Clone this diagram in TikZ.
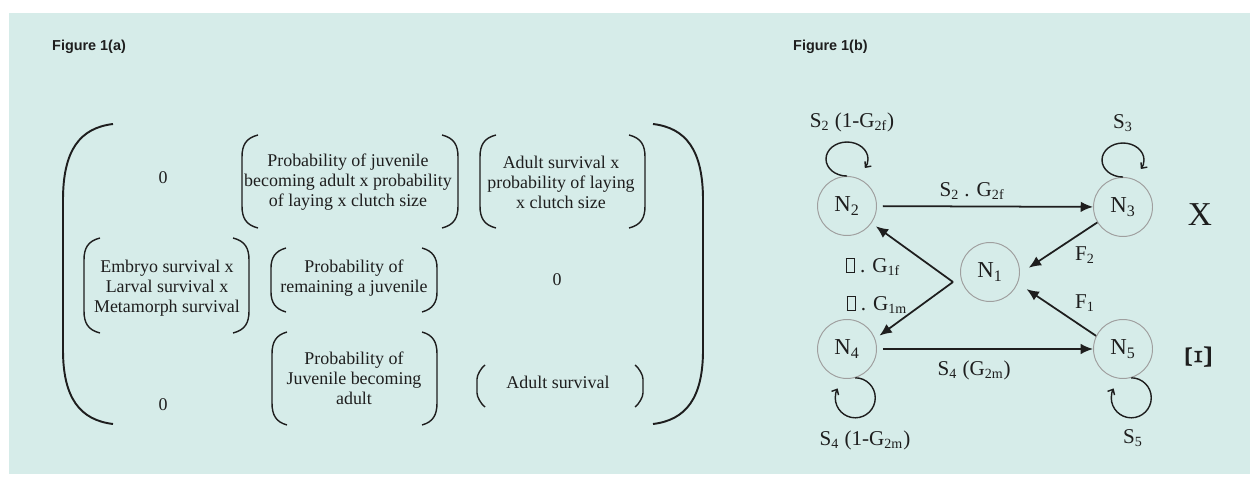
\documentclass[tikz,border=0pt]{standalone}
\usepackage{fontspec}
\setmainfont{Liberation Serif}
\setsansfont{Liberation Sans}
\usepackage{tikz}
\usetikzlibrary{arrows.meta}
\definecolor{panel}{RGB}{214,236,233}
\definecolor{ink}{RGB}{30,30,30}
\newcommand\nogly{{\setlength\fboxsep{0pt}\setlength\fboxrule{0.5pt}\fbox{\rule{0pt}{0.62em}\hspace{0.34em}}}}

\begin{document}
\begin{tikzpicture}[
    x=0.02cm, y=-0.02cm, >=Latex,
    cell/.style={align=center, text=ink, font=\fontsize{10.2}{11.4}\selectfont},
    brk/.style={ink, line width=0.8pt},
    bigbrk/.style={ink, line width=1.1pt},
    stage/.style={circle, draw=gray!75, line width=0.55pt, minimum size=1.18cm,
        inner sep=0pt, text=ink, font=\fontsize{13}{14}\selectfont},
    lbl/.style={text=ink, font=\fontsize{12}{14}\selectfont},
    arr/.style={->, ink, line width=1pt, >={Latex[length=7pt,width=6pt]}},
    selfloop/.style={->, ink, line width=0.8pt, >={Straight Barb[length=2.5pt,width=4.5pt]}},
    figtitle/.style={anchor=west, text=ink, font=\sffamily\bfseries\fontsize{8.2}{9}\selectfont}
]

% Fons
\useasboundingbox (0,0) rectangle (1250,479);
\fill[white] (0,0) rectangle (1250,479);
\fill[panel] (9,13) rectangle (1250,474);

\node[figtitle] (figa) at (46,47) {Figure 1(a)};
\node[figtitle] (figb) at (787,47) {Figure 1(b)};

% Matriu
\draw[bigbrk] (113,124) .. controls (80,128) and (63,150) .. (63,200) -- (63,350)
    .. controls (63,398) and (80,420) .. (113,424);
\draw[bigbrk] (653,124) .. controls (686,128) and (703,150) .. (703,200) -- (703,350)
    .. controls (703,398) and (686,420) .. (653,424);

\foreach \xl/\xr/\yt/\yb/\w/\c in {242/458/135/228/16/22, 480/645/135/228/16/22,
    84/249/238/333/16/22, 271/437/248/312/15/20, 272/437/332/425/15/22,
    477/643/365/407/8/14}{
  \draw[brk] (\xl+\w,\yt) .. controls (\xl+4,\yt+3) and (\xl,\yt+10) .. (\xl,\yt+\c)
      -- (\xl,\yb-\c) .. controls (\xl,\yb-10) and (\xl+4,\yb-3) .. (\xl+\w,\yb);
  \draw[brk] (\xr-\w,\yt) .. controls (\xr-4,\yt+3) and (\xr,\yt+10) .. (\xr,\yt+\c)
      -- (\xr,\yb-\c) .. controls (\xr,\yb-10) and (\xr-4,\yb-3) .. (\xr-\w,\yb);
}

\node[cell] (a11) at (163,178) {0};
\node[cell] (a12) at (348,182) {Probability of juvenile\\becoming adult x probability\\of laying x clutch size};
\node[cell] (a13) at (561,182) {Adult survival x\\probability of laying\\x clutch size};
\node[cell] (a21) at (167,288) {Embryo survival x\\Larval survival x\\Metamorph survival};
\node[cell] (a22) at (354,278) {Probability of\\remaining a juvenile};
\node[cell] (a23) at (557,280) {0};
\node[cell] (a31) at (163,405) {0};
\node[cell] (a32) at (354,378) {Probability of\\Juvenile becoming\\adult};
\node[cell] (a33) at (558,382) {Adult survival};

% Estadis
\node[stage] (N2) at (847,206) {N\textsubscript{2}};
\node[stage] (N3) at (1123,207) {N\textsubscript{3}};
\node[stage] (N1) at (990,272) {N\textsubscript{1}};
\node[stage] (N4) at (847,349) {N\textsubscript{4}};
\node[stage] (N5) at (1123,349) {N\textsubscript{5}};
\coordinate (split) at (953,282);

% Transicions
\draw[arr, shorten <=3.4pt] (N2) -- (N3)
    node[lbl, pos=0.44, above] {S\textsubscript{2} . G\textsubscript{2f}};
\draw[arr, shorten <=3.4pt] (N4) -- (N5)
    node[lbl, pos=0.45, below=3pt] {S\textsubscript{4} (G\textsubscript{2m})};
\draw[arr, shorten >=3pt] (split) -- (N2.-35);
\draw[arr, shorten >=3pt] (split) -- (N4.20);
\draw[arr, shorten >=6pt] (N3.211) -- (N1.-3);
\draw[arr, shorten >=6pt] (N5.154) -- (N1.-22);

\node[lbl] (f2) at (1085,255) {F\textsubscript{2}};
\node[lbl] (f1) at (1085,303) {F\textsubscript{1}};
\node[lbl] (g1f) at (873,267) {\nogly\ . G\textsubscript{1f}};
\node[lbl] (g1m) at (877,305) {\nogly\ . G\textsubscript{1m}};

% Bucles
\draw[selfloop] (N2.north) arc[start angle=90, end angle=392, x radius=21, y radius=17];
\draw[selfloop] (N3.north) arc[start angle=90, end angle=392, x radius=21, y radius=17];
\draw[selfloop] (N4.-74) arc[start angle=270, end angle=568, radius=20];
\draw[selfloop] (N5.-74) arc[start angle=270, end angle=568, radius=20];

\node[lbl] (s2) at (852,122) {S\textsubscript{2} (1-G\textsubscript{2f})};
\node[lbl] (s3) at (1123,123) {S\textsubscript{3}};
\node[lbl] (s4) at (865,440) {S\textsubscript{4} (1-G\textsubscript{2m})};
\node[lbl] (s5) at (1133,438) {S\textsubscript{5}};

\node[text=ink, font=\fontsize{19}{20}\selectfont] (xa) at (1200,215) {X};
\node[text=ink, font=\fontsize{22}{24}\selectfont, rotate=90] (xi) at (1199,357) {Ξ};

\end{tikzpicture}
\end{document}
